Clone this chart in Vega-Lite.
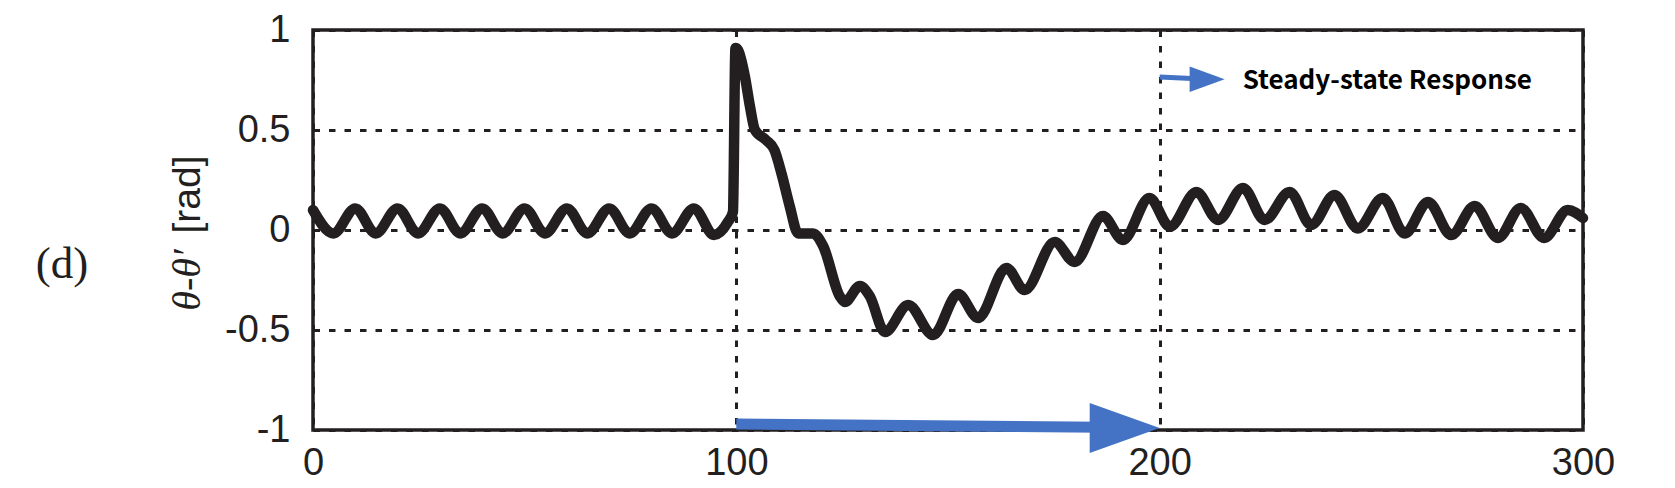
{
  "$schema": "https://vega.github.io/schema/vega-lite/v6.json",
  "width": 1270,
  "height": 400,
  "autosize": {"type": "none"},
  "padding": {"left": 313, "top": 30, "right": 92, "bottom": 58},
  "background": "white",
  "config": {"view": {"stroke": "#231f20", "strokeWidth": 3.5}, "font": "Liberation Sans"},
  "datasets": {
    "signal": [
      {"t": 0, "v": 0.1}, {"t": 4.8, "v": -0.017}, {"t": 10, "v": 0.108}, {"t": 14.8, "v": -0.017},
      {"t": 20, "v": 0.108}, {"t": 24.8, "v": -0.017}, {"t": 30, "v": 0.108}, {"t": 34.8, "v": -0.017},
      {"t": 40, "v": 0.108}, {"t": 44.8, "v": -0.017}, {"t": 50, "v": 0.108}, {"t": 54.8, "v": -0.017},
      {"t": 60, "v": 0.108}, {"t": 64.8, "v": -0.017}, {"t": 70, "v": 0.108}, {"t": 74.8, "v": -0.017},
      {"t": 80, "v": 0.108}, {"t": 84.8, "v": -0.017}, {"t": 90, "v": 0.108}, {"t": 94.7, "v": -0.025},
      {"t": 98, "v": 0.04}, {"t": 99.2, "v": 0.09}, {"t": 99.8, "v": 0.91}, {"t": 100.4, "v": 0.9},
      {"t": 102, "v": 0.77}, {"t": 103.2, "v": 0.62}, {"t": 104.4, "v": 0.5}, {"t": 107, "v": 0.45},
      {"t": 109, "v": 0.4}, {"t": 110.7, "v": 0.28}, {"t": 112.6, "v": 0.12}, {"t": 114.6, "v": -0.017},
      {"t": 118.1, "v": -0.017}, {"t": 120.5, "v": -0.08}, {"t": 124.4, "v": -0.33}, {"t": 125.6, "v": -0.36},
      {"t": 129.2, "v": -0.28}, {"t": 131.5, "v": -0.33}, {"t": 135.1, "v": -0.51}, {"t": 140.6, "v": -0.375},
      {"t": 146.5, "v": -0.525}, {"t": 152.4, "v": -0.32}, {"t": 157.1, "v": -0.44}, {"t": 163.8, "v": -0.19},
      {"t": 168.1, "v": -0.3}, {"t": 175.2, "v": -0.06}, {"t": 179.9, "v": -0.16}, {"t": 186.6, "v": 0.07},
      {"t": 191.3, "v": -0.05}, {"t": 197.6, "v": 0.16}, {"t": 202.4, "v": 0.017}, {"t": 208.7, "v": 0.19},
      {"t": 213.8, "v": 0.05}, {"t": 219.7, "v": 0.21}, {"t": 224.8, "v": 0.05}, {"t": 230.7, "v": 0.19},
      {"t": 235.8, "v": 0.025}, {"t": 241.3, "v": 0.175}, {"t": 246.8, "v": 0.008}, {"t": 252.7, "v": 0.16},
      {"t": 257.9, "v": -0.017}, {"t": 263.4, "v": 0.14}, {"t": 268.9, "v": -0.025}, {"t": 274.4, "v": 0.12},
      {"t": 279.9, "v": -0.04}, {"t": 285.3, "v": 0.11}, {"t": 290.8, "v": -0.04}, {"t": 296.4, "v": 0.1},
      {"t": 300, "v": 0.06}
    ],
    "bigArrowLine": [{"t": 100, "v": -0.97, "t2": 193, "v2": -0.988}],
    "bigArrowHead": [{"t": 200, "v": -0.99}],
    "smallArrowLine": [{"t": 200, "v": 0.765, "t2": 207.6, "v2": 0.757}],
    "smallArrowHead": [{"t": 215.35, "v": 0.7535}],
    "note": [{"t": 219.6, "v": 0.707, "label": "Steady-state Response"}],
    "panel": [{"t": -59.3, "v": -0.2415, "label": "(d)"}],
    "symbolTitle": [{"t": -26.7, "v": -0.25, "label": "θ-θ′"}]
  },
  "layer": [
    {
      "data": {"name": "signal"},
      "mark": {"type": "line", "color": "#231f20", "strokeWidth": 10.5, "interpolate": "monotone", "strokeJoin": "round", "strokeCap": "round"},
      "encoding": {
        "x": {
          "field": "t", "type": "quantitative",
          "scale": {"domain": [0, 300], "nice": false, "zero": false},
          "axis": {
            "values": [0, 100, 200, 300], "title": null, "grid": true, "gridColor": "#231f20",
            "gridDash": [6.5, 9], "gridWidth": 3, "gridOpacity": 1, "domain": false, "ticks": false,
            "labelFontSize": 38, "labelColor": "#231f20", "labelFont": "Liberation Sans",
            "labelPadding": 14, "labelFlush": false, "labelOverlap": false, "labelBound": false
          }
        },
        "y": {
          "field": "v", "type": "quantitative",
          "scale": {"domain": [-1, 1], "nice": false, "zero": false},
          "axis": {
            "values": [-1, -0.5, 0, 0.5, 1], "labelExpr": "toString(datum.value)",
            "title": "[rad]", "titleFontSize": 39, "titleFontWeight": "normal", "titleColor": "#231f20",
            "titleFont": "Liberation Sans", "titleX": -114, "titleY": 164, "titleAngle": -90,
            "titleAlign": "center", "titleBaseline": "alphabetic",
            "grid": true, "gridColor": "#231f20", "gridDash": [6.5, 9], "gridWidth": 3, "gridOpacity": 1,
            "domain": false, "ticks": false, "labelFontSize": 38, "labelColor": "#231f20",
            "labelFont": "Liberation Sans", "labelPadding": 23, "labelFlush": false, "labelOverlap": false, "labelBound": false
          }
        }
      }
    },
    {
      "data": {"name": "bigArrowLine"},
      "mark": {"type": "rule", "color": "#4472c4", "strokeWidth": 11, "strokeCap": "butt"},
      "encoding": {
        "x": {"field": "t", "type": "quantitative"},
        "y": {"field": "v", "type": "quantitative"},
        "x2": {"field": "t2"},
        "y2": {"field": "v2"}
      }
    },
    {
      "data": {"name": "bigArrowHead"},
      "mark": {"type": "point", "filled": true, "opacity": 1, "color": "#4472c4", "shape": "M-2,-0.714L0,0L-2,0.714Z", "size": 4900},
      "encoding": {
        "x": {"field": "t", "type": "quantitative"},
        "y": {"field": "v", "type": "quantitative"}
      }
    },
    {
      "data": {"name": "smallArrowLine"},
      "mark": {"type": "rule", "color": "#4472c4", "strokeWidth": 5, "strokeCap": "butt"},
      "encoding": {
        "x": {"field": "t", "type": "quantitative"},
        "y": {"field": "v", "type": "quantitative"},
        "x2": {"field": "t2"},
        "y2": {"field": "v2"}
      }
    },
    {
      "data": {"name": "smallArrowHead"},
      "mark": {"type": "point", "filled": true, "opacity": 1, "color": "#4472c4", "shape": "M-2,-0.73L0,0L-2,0.73Z", "size": 1225},
      "encoding": {
        "x": {"field": "t", "type": "quantitative"},
        "y": {"field": "v", "type": "quantitative"}
      }
    },
    {
      "data": {"name": "note"},
      "mark": {"type": "text", "align": "left", "baseline": "alphabetic", "font": "Noto Sans CJK KR", "fontWeight": "bold", "fontSize": 26, "color": "#000000"},
      "encoding": {
        "x": {"field": "t", "type": "quantitative"},
        "y": {"field": "v", "type": "quantitative"},
        "text": {"field": "label"}
      }
    },
    {
      "data": {"name": "panel"},
      "mark": {"type": "text", "align": "center", "baseline": "alphabetic", "font": "Liberation Serif", "fontSize": 45, "color": "#231f20"},
      "encoding": {
        "x": {"field": "t", "type": "quantitative"},
        "y": {"field": "v", "type": "quantitative"},
        "text": {"field": "label"}
      }
    },
    {
      "data": {"name": "symbolTitle"},
      "mark": {"type": "text", "align": "center", "baseline": "alphabetic", "angle": 270, "font": "Liberation Serif", "fontStyle": "italic", "fontSize": 40, "color": "#231f20"},
      "encoding": {
        "x": {"field": "t", "type": "quantitative"},
        "y": {"field": "v", "type": "quantitative"},
        "text": {"field": "label"}
      }
    }
  ]
}
